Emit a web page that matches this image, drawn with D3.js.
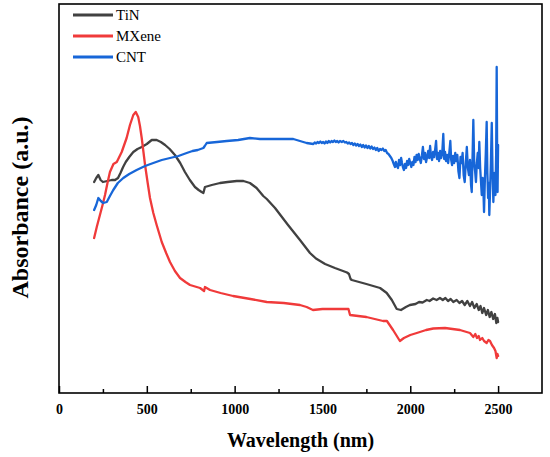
<!DOCTYPE html>
<html>
<head>
<meta charset="utf-8">
<script src="https://cdn.jsdelivr.net/npm/d3@7"></script>
<style>
  html, body { margin: 0; padding: 0; background: #fff; }
  svg { display: block; }
</style>
</head>
<body>
<svg id="chart" width="550" height="457"></svg>
<script>
// ---- DATA: [wavelength (nm), absorbance (a.u.)] ----
const tinData = [[200,2.11],[212,2.15],[224,2.18],[237,2.13],[250,2.11],[275,2.12],[300,2.13],[319,2.13],[336,2.15],[350,2.20],[365,2.26],[380,2.31],[400,2.36],[423,2.41],[447,2.44],[471,2.46],[500,2.49],[528,2.53],[556,2.53],[580,2.51],[604,2.48],[630,2.44],[660,2.38],[690,2.30],[717,2.21],[745,2.13],[774,2.06],[795,2.03],[812,2.01],[822,2.00],[831,2.06],[870,2.08],[917,2.10],[960,2.11],[1012,2.12],[1050,2.12],[1087,2.10],[1125,2.05],[1163,1.97],[1183,1.94],[1230,1.85],[1304,1.68],[1372,1.53],[1429,1.40],[1463,1.345],[1515,1.29],[1571,1.25],[1640,1.205],[1651,1.19],[1660,1.14],[1667,1.13],[1750,1.09],[1828,1.05],[1866,1.00],[1895,0.93],[1923,0.84],[1947,0.83],[1975,0.86],[1998,0.88],[2030,0.89],[2050,0.91],[2070,0.905],[2094,0.93],[2110,0.92],[2130,0.945],[2150,0.93],[2169,0.95],[2185,0.93],[2200,0.95],[2215,0.92],[2230,0.94],[2245,0.91],[2264,0.93],[2280,0.90],[2295,0.92],[2310,0.88],[2325,0.92],[2340,0.87],[2352,0.91],[2365,0.85],[2378,0.89],[2390,0.83],[2400,0.87],[2410,0.80],[2420,0.85],[2432,0.78],[2442,0.83],[2452,0.76],[2462,0.81],[2472,0.74],[2482,0.79],[2490,0.70],[2496,0.75],[2500,0.71]];

const mxeneData = [[200,1.55],[215,1.66],[233,1.78],[248,1.88],[262,1.98],[276,2.10],[290,2.21],[310,2.29],[329,2.31],[357,2.41],[385,2.55],[404,2.68],[423,2.78],[437,2.81],[451,2.76],[461,2.67],[471,2.55],[490,2.28],[505,2.10],[518,1.95],[537,1.80],[556,1.68],[585,1.51],[610,1.40],[632,1.31],[660,1.22],[689,1.15],[720,1.11],[746,1.08],[803,1.05],[826,1.02],[831,1.06],[860,1.03],[920,1.00],[991,0.97],[1090,0.94],[1183,0.91],[1280,0.90],[1372,0.88],[1410,0.86],[1446,0.83],[1500,0.84],[1580,0.84],[1648,0.84],[1657,0.78],[1750,0.76],[1845,0.72],[1867,0.72],[1902,0.63],[1941,0.52],[1964,0.55],[2000,0.58],[2037,0.60],[2090,0.63],[2131,0.645],[2198,0.65],[2283,0.63],[2340,0.60],[2359,0.56],[2370,0.59],[2380,0.55],[2390,0.57],[2397,0.53],[2410,0.55],[2420,0.52],[2435,0.50],[2445,0.53],[2454,0.52],[2465,0.48],[2477,0.45],[2485,0.42],[2492,0.35],[2496,0.39],[2500,0.37]];

const cntData = [[200,1.83],[212,1.88],[224,1.95],[238,1.92],[252,1.90],[272,1.91],[290,1.97],[309,2.03],[335,2.10],[366,2.15],[400,2.19],[442,2.23],[490,2.27],[537,2.30],[585,2.33],[632,2.35],[680,2.37],[727,2.40],[760,2.42],[790,2.43],[822,2.45],[830,2.47],[841,2.50],[900,2.51],[955,2.52],[1020,2.53],[1087,2.55],[1144,2.54],[1240,2.54],[1334,2.54],[1372,2.52],[1410,2.50],[1448,2.49],[1456,2.505],[1464,2.495],[1472,2.51],[1480,2.50],[1488,2.515],[1496,2.50],[1504,2.51],[1512,2.495],[1520,2.515],[1528,2.50],[1536,2.52],[1544,2.505],[1552,2.52],[1560,2.51],[1568,2.525],[1576,2.51],[1584,2.52],[1592,2.505],[1600,2.52],[1610,2.51],[1619,2.52],[1628,2.505],[1636,2.51],[1644,2.495],[1652,2.505],[1660,2.49],[1668,2.50],[1676,2.48],[1684,2.495],[1692,2.475],[1700,2.49],[1708,2.47],[1716,2.485],[1724,2.46],[1732,2.48],[1740,2.455],[1748,2.475],[1756,2.45],[1764,2.47],[1772,2.445],[1780,2.465],[1788,2.44],[1796,2.455],[1804,2.43],[1812,2.45],[1820,2.42],[1828,2.44],[1836,2.43],[1844,2.445],[1852,2.42],[1860,2.43],[1868,2.40],[1876,2.39],[1884,2.37],[1892,2.35],[1900,2.32],[1906,2.29],[1913,2.26],[1918,2.31],[1924,2.27],[1930,2.25],[1936,2.33],[1942,2.28],[1948,2.35],[1953,2.30],[1958,2.26],[1964,2.23],[1970,2.29],[1976,2.25],[1982,2.32],[1988,2.28],[1994,2.34],[2000,2.30],[2006,2.26],[2012,2.31],[2018,2.28],[2024,2.36],[2030,2.31],[2036,2.38],[2042,2.33],[2048,2.39],[2054,2.34],[2060,2.30],[2066,2.37],[2072,2.46],[2078,2.34],[2084,2.40],[2090,2.31],[2096,2.36],[2102,2.42],[2108,2.35],[2113,2.47],[2118,2.37],[2124,2.33],[2130,2.41],[2136,2.36],[2142,2.44],[2147,2.52],[2152,2.34],[2158,2.40],[2164,2.32],[2170,2.42],[2176,2.35],[2182,2.40],[2188,2.59],[2193,2.34],[2198,2.41],[2204,2.32],[2210,2.38],[2216,2.30],[2222,2.40],[2228,2.52],[2233,2.33],[2238,2.28],[2244,2.37],[2250,2.30],[2256,2.40],[2262,2.32],[2268,2.38],[2274,2.22],[2280,2.15],[2286,2.36],[2292,2.30],[2298,2.40],[2304,2.18],[2310,2.11],[2316,2.30],[2322,2.46],[2328,2.25],[2334,2.18],[2340,2.33],[2346,2.08],[2350,2.01],[2355,2.40],[2359,2.73],[2364,2.30],[2369,2.22],[2374,2.11],[2379,2.30],[2384,2.40],[2389,2.25],[2393,2.51],[2398,2.25],[2403,2.10],[2407,1.98],[2412,2.15],[2416,2.05],[2420,1.81],[2425,2.15],[2430,2.40],[2435,2.71],[2439,2.20],[2443,1.95],[2447,2.10],[2450,1.78],[2454,2.00],[2459,2.30],[2464,2.70],[2468,2.25],[2473,1.91],[2477,2.10],[2481,2.20],[2485,1.98],[2489,2.40],[2492,3.26],[2495,2.30],[2497,2.01],[2500,2.48]];

const seriesNames = ["TiN", "MXene", "CNT"];
const seriesColors = ["#414141", "#f03a3a", "#1766d8"];
const majorTicks = [0, 500, 1000, 1500, 2000, 2500];
const minorTicks = [250, 750, 1250, 1750, 2250];
const xTitle = "Wavelength (nm)";
const yTitle = "Absorbance (a.u.)";

// ---- LAYOUT ----
const L = 59, R = 542, T = 4, B = 393;
const svg = d3.select("#chart");
const x = d3.scaleLinear().domain([0, 2750]).range([L, R]);
const y = d3.scaleLinear().domain([0, 3.89]).range([B, T]);
const font = "'Liberation Serif', 'Times New Roman', Times, serif";

// curves
const line = d3.line().x(d => x(d[0])).y(d => y(d[1]));
const allSeries = [tinData, mxeneData, cntData];
allSeries.forEach((data, i) => {
  svg.append("path")
    .datum(data)
    .attr("d", line)
    .attr("fill", "none")
    .attr("stroke", seriesColors[i])
    .attr("stroke-width", 2.3)
    .attr("stroke-linejoin", "round")
    .attr("stroke-linecap", "round");
});

// axes
const gMaj = svg.append("g").attr("transform", `translate(0,${B})`)
  .call(d3.axisBottom(x).tickValues(majorTicks).tickSize(-7).tickPadding(11).tickFormat(d3.format("d")));
gMaj.select(".domain").remove();
gMaj.selectAll("line").attr("stroke", "#000").attr("stroke-width", 1.5);
gMaj.selectAll("text").style("font-family", font).style("font-weight", "bold").style("font-size", "14px").attr("fill", "#000");

const gMin = svg.append("g").attr("transform", `translate(0,${B})`)
  .call(d3.axisBottom(x).tickValues(minorTicks).tickSize(-4).tickFormat(""));
gMin.select(".domain").remove();
gMin.selectAll("line").attr("stroke", "#000").attr("stroke-width", 1.5);

// frame
svg.append("rect")
  .attr("x", L).attr("y", T).attr("width", R - L).attr("height", B - T)
  .attr("fill", "none").attr("stroke", "#000").attr("stroke-width", 1.6);

// axis titles
svg.append("text")
  .attr("x", (L + R) / 2).attr("y", 447)
  .attr("text-anchor", "middle")
  .style("font-family", font).style("font-weight", "bold").style("font-size", "20px")
  .text(xTitle);
svg.append("text")
  .attr("transform", `translate(28,${(T + B) / 2 + 9}) rotate(-90)`)
  .attr("text-anchor", "middle")
  .style("font-family", font).style("font-weight", "bold").style("font-size", "24px")
  .text(yTitle);

// legend
const legY = [15, 36, 57];
seriesNames.forEach((name, i) => {
  svg.append("line")
    .attr("x1", 73).attr("x2", 113).attr("y1", legY[i]).attr("y2", legY[i])
    .attr("stroke", seriesColors[i]).attr("stroke-width", 3);
  svg.append("text")
    .attr("x", 116).attr("y", legY[i] + 5)
    .style("font-family", font).style("font-size", "15px")
    .text(name);
});
</script>
</body>
</html>
